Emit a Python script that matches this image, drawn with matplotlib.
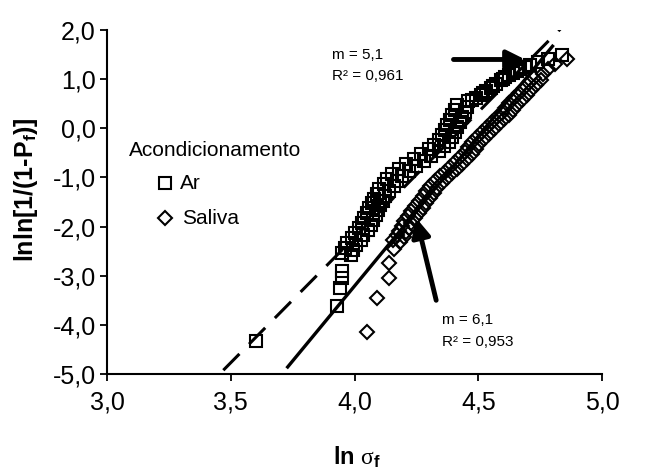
import matplotlib
matplotlib.use('Agg')
import matplotlib.pyplot as plt
from matplotlib.ticker import FuncFormatter, MultipleLocator
import numpy as np

plt.rcParams['font.family'] = ['Liberation Sans', 'DejaVu Sans']
plt.rcParams['mathtext.fontset'] = 'custom'
plt.rcParams['mathtext.rm'] = 'Liberation Serif'
plt.rcParams['mathtext.bf'] = 'Liberation Sans:bold'
plt.rcParams['mathtext.it'] = 'Liberation Serif:italic'
plt.rcParams['mathtext.sf'] = 'Liberation Sans'

# ---- data ----
ar_x = [3.60, 3.93, 3.94, 3.95, 3.95,
        3.950, 3.985, 3.960, 3.995, 3.970, 4.005, 3.990, 4.025, 4.000, 4.035,
        4.020, 4.055, 4.030, 4.065, 4.040, 4.075, 4.050, 4.085, 4.060, 4.095,
        4.070, 4.105, 4.080, 4.115, 4.090, 4.125, 4.100, 4.140, 4.120, 4.160,
        4.130, 4.170, 4.150, 4.190, 4.180, 4.220, 4.210, 4.250, 4.240, 4.280,
        4.270, 4.310, 4.300, 4.340, 4.320, 4.360, 4.340, 4.380, 4.355, 4.395,
        4.365, 4.405, 4.375, 4.415, 4.385, 4.425, 4.395, 4.435, 4.405, 4.445,
        4.415, 4.455,
        4.46, 4.475, 4.49, 4.51, 4.52, 4.53, 4.55, 4.56, 4.57, 4.59, 4.60, 4.61,
        4.625, 4.64, 4.655, 4.67, 4.69, 4.71, 4.74, 4.78, 4.84]
ar_y = [-4.33, -3.62, -3.25, -3.05, -2.90,
        -2.53, -2.57, -2.43, -2.47, -2.33, -2.37, -2.23, -2.27, -2.13, -2.17,
        -2.03, -2.07, -1.93, -1.97, -1.83, -1.87, -1.73, -1.77, -1.63, -1.67,
        -1.53, -1.57, -1.43, -1.47, -1.33, -1.37, -1.23, -1.27, -1.13, -1.17,
        -1.03, -1.07, -0.93, -0.97, -0.83, -0.87, -0.73, -0.77, -0.63, -0.67,
        -0.53, -0.57, -0.43, -0.47, -0.33, -0.37, -0.23, -0.27, -0.13, -0.17,
        -0.03, -0.07, 0.07, 0.03, 0.17, 0.13, 0.27, 0.23, 0.37, 0.33,
        0.47, 0.43,
        0.55, 0.58, 0.62, 0.68, 0.72, 0.75, 0.82, 0.86, 0.90, 0.98, 1.01, 1.05,
        1.08, 1.12, 1.16, 1.20, 1.24, 1.28, 1.35, 1.42, 1.50]

sal_x = [4.05, 4.09, 4.14, 4.14, 4.16,
         4.155, 4.185, 4.170, 4.200, 4.180, 4.210, 4.190, 4.220, 4.200, 4.230,
         4.215, 4.245, 4.230, 4.260, 4.245, 4.275, 4.260, 4.290, 4.275, 4.305,
         4.290, 4.320, 4.305, 4.335, 4.325, 4.355, 4.345, 4.375, 4.365, 4.395,
         4.385, 4.415, 4.405, 4.435, 4.425, 4.455, 4.445, 4.475, 4.460, 4.490,
         4.475, 4.505, 4.495, 4.525, 4.515, 4.545, 4.535, 4.565, 4.555, 4.585,
         4.575, 4.605, 4.595, 4.625, 4.610, 4.640, 4.625, 4.655, 4.645, 4.675,
         4.665, 4.695, 4.685, 4.715, 4.705, 4.735, 4.725, 4.755,
         4.76, 4.78, 4.81, 4.86]
sal_y = [-4.15, -3.45, -3.05, -2.75, -2.45,
         -2.28, -2.32, -2.18, -2.22, -2.08, -2.12, -1.98, -2.02, -1.88, -1.92,
         -1.78, -1.82, -1.68, -1.72, -1.58, -1.62, -1.48, -1.52, -1.38, -1.42,
         -1.28, -1.32, -1.18, -1.22, -1.08, -1.12, -0.98, -1.02, -0.88, -0.92,
         -0.78, -0.82, -0.68, -0.72, -0.58, -0.62, -0.48, -0.52, -0.38, -0.42,
         -0.28, -0.32, -0.18, -0.22, -0.08, -0.12, 0.02, -0.02, 0.12, 0.08,
         0.22, 0.18, 0.32, 0.28, 0.42, 0.38, 0.52, 0.48, 0.62, 0.58,
         0.72, 0.68, 0.82, 0.78, 0.92, 0.88, 1.02, 0.98,
         1.10, 1.20, 1.30, 1.42]

ar_slope, ar_icpt, ar_xrange = 5.1, -22.62, [3.47, 4.84]
sal_slope, sal_icpt, sal_xrange = 6.1, -27.61, [3.73, 4.80]

ar_label = 'm = 5,1\nR² = 0,961'
sal_label = 'm = 6,1\nR² = 0,953'
legend_title = 'Acondicionamento'
series_names = ['Ar', 'Saliva']

fig = plt.figure(figsize=(6.53, 4.70), dpi=100)
ax = fig.add_axes([107/653, 1-374/470, 495/653, 344/470])

# fitted lines
xa = np.array(ar_xrange)
ax.plot(xa, ar_slope*xa + ar_icpt, color='black', lw=2.2, dashes=(7.5, 4.5), zorder=2)
xs = np.array(sal_xrange)
ax.plot(xs, sal_slope*xs + sal_icpt, color='black', lw=2.4, zorder=2)

# data
ax.plot(sal_x, sal_y, linestyle='none', marker='D', ms=7.5, mfc='none', mec='black', mew=1.5, zorder=3)
ax.plot(ar_x, ar_y, linestyle='none', marker='s', ms=9, mfc='none', mec='black', mew=1.5, zorder=4)

ax.set_xlim(3.0, 5.0)
ax.set_ylim(-5.0, 2.0)
ax.xaxis.set_major_locator(MultipleLocator(0.5))
ax.yaxis.set_major_locator(MultipleLocator(1.0))
fmt = FuncFormatter(lambda v, p: f'{v:.1f}'.replace('.', ',').replace('\u2212', '-'))
ax.xaxis.set_major_formatter(fmt)
ax.yaxis.set_major_formatter(fmt)

for s in ['top', 'right']:
    ax.spines[s].set_visible(False)
for s in ['left', 'bottom']:
    ax.spines[s].set_linewidth(1.5)
ax.tick_params(axis='both', direction='out', length=5, width=1.3, labelsize=18)
ax.tick_params(axis='x', pad=7)
ax.tick_params(axis='y', pad=3)

ax.set_xlabel('ln $\\mathrm{\\sigma}_\\mathbf{f}$', fontsize=17, fontweight='bold')
ax.xaxis.set_label_coords(0.505, -0.205)
ax.set_ylabel('lnln[1/(1-P$_\\mathbf{f}$)]', fontsize=18, fontweight='bold')
ax.yaxis.set_label_coords(-0.135, 0.535)

# annotations
ax.text(3.911, 1.28, ar_label, fontsize=11, va='center', ha='left', linespacing=1.7)
ax.text(4.355, -4.12, sal_label, fontsize=11, va='center', ha='left', linespacing=1.7)
ax.annotate('', xy=(4.69, 1.40), xytext=(4.40, 1.40),
            arrowprops=dict(arrowstyle='-|>,head_length=0.5,head_width=0.25', lw=3.5,
                            color='black', mutation_scale=22, shrinkA=0, shrinkB=0))
ax.annotate('', xy=(4.25, -1.83), xytext=(4.33, -3.50),
            arrowprops=dict(arrowstyle='-|>,head_length=0.5,head_width=0.25', lw=3.5,
                            color='black', mutation_scale=22, shrinkA=0, shrinkB=0))

# legend (manual)
ax.text(0.044, 0.651, legend_title, transform=ax.transAxes, fontsize=15, va='center', ha='left')
ax.plot([0.117], [0.555], transform=ax.transAxes, marker='s', ms=9, mfc='white', mec='black', mew=1.5, linestyle='none', clip_on=False)
ax.text(0.147, 0.555, series_names[0], transform=ax.transAxes, fontsize=15, va='center', ha='left')
ax.plot([0.117], [0.453], transform=ax.transAxes, marker='D', ms=7.5, mfc='white', mec='black', mew=1.5, linestyle='none', clip_on=False)
ax.text(0.152, 0.453, series_names[1], transform=ax.transAxes, fontsize=15, va='center', ha='left')

fig.savefig('out.png', dpi=100)
